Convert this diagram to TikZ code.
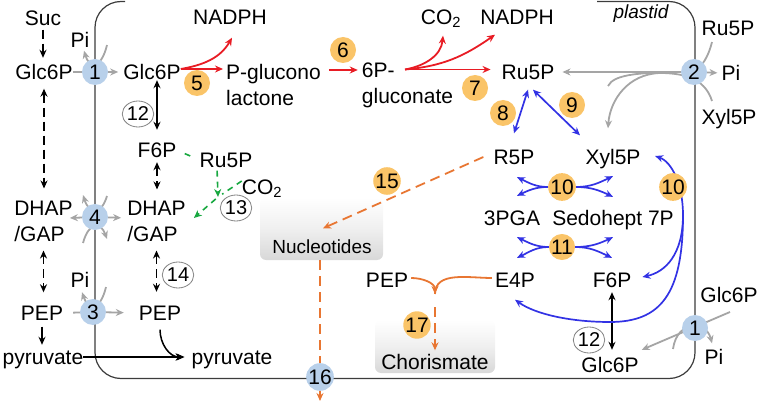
\documentclass[tikz,border=0pt]{standalone}
\usepackage{fontspec}
\setmainfont{Liberation Sans}
\usetikzlibrary{arrows.meta,shapes.geometric,calc}
\definecolor{cblue}{RGB}{184,208,234}
\definecolor{corange}{RGB}{250,196,104}
\definecolor{cred}{RGB}{232,28,36}
\definecolor{cvio}{RGB}{50,50,228}
\definecolor{cgreen}{RGB}{24,168,64}
\definecolor{cdash}{RGB}{232,118,50}
\definecolor{cgray}{RGB}{165,165,165}
\definecolor{cgrayd}{RGB}{130,130,130}
\definecolor{cline}{RGB}{60,60,60}
\definecolor{boxgray}{RGB}{216,216,216}
\pgfdeclarelayer{boxes}
\pgfdeclarelayer{lines}
\pgfsetlayers{boxes,lines,main}
\begin{document}
\begin{tikzpicture}[x=1pt,y=-1pt,
  >={Stealth[length=8pt,width=7pt]},
  lab/.style={inner sep=0pt, text height=15pt, text depth=0pt, font=\fontsize{21}{26}\selectfont},
  labm/.style={inner sep=0pt, align=left, font=\fontsize{21}{26}\selectfont},
  bnum/.style={circle, fill=cblue, minimum size=26pt, inner sep=0pt, font=\fontsize{21}{26}\selectfont},
  onum/.style={circle, fill=corange, minimum size=26pt, inner sep=0pt, font=\fontsize{21}{26}\selectfont},
  wnum/.style={ellipse, draw=cgrayd, line width=0.8pt, fill=white, minimum width=28pt, minimum height=26pt, inner sep=0pt, font=\fontsize{20}{24}\selectfont},
  gbox/.style={rounded corners=6pt, top color=white, bottom color=boxgray, middle color=white!60!boxgray, inner sep=0pt},
  bnd/.style={draw=cline, line width=1.2pt},
  ks/.style={draw=black, line width=1.5pt},
  kd/.style={draw=black, line width=1.5pt, dash pattern=on 9pt off 5pt},
  gy/.style={draw=cgray, line width=1.8pt},
  rd/.style={draw=cred, line width=1.8pt},
  bl/.style={draw=cvio, line width=1.7pt},
  oa/.style={draw=cdash, line width=1.8pt},
  od/.style={draw=cdash, line width=1.8pt, dash pattern=on 10pt off 6pt},
  gd/.style={draw=cgreen, line width=1.6pt, dash pattern=on 6pt off 5pt}
]
\useasboundingbox (0,0) rectangle (762,403);

% ---------- nodes ----------
\node[lab] (suc) at (43,18) {Suc};
\node[lab] (glcL) at (44,72) {Glc6P};
\node[lab] (piA) at (80,40) {Pi};
\node[bnum] (c1a) at (95,72) {1};
\node[lab] (glcI) at (152,72) {Glc6P};
\node[lab] (nadph1) at (230,17) {NADPH};
\node[onum] (c5) at (197,83) {5};
\node[labm] (pgl) at (273.5,85) {P-glucono\\lactone};
\node[onum] (c6) at (343,50) {6};
\node[labm] (gcn) at (407.5,85) {6P-\\gluconate};
\node[lab] (co2) at (441,17) {CO\textsubscript{2}};
\node[lab] (nadph2) at (517,17) {NADPH};
\node[onum] (c7) at (475,88) {7};
\node[lab] (ru5pI) at (528,72) {Ru5P};
\node[lab, font=\fontsize{19}{22}\selectfont\itshape] (plastid) at (641,11) {plastid};
\node[bnum] (c2) at (694,72) {2};
\node[lab] (ru5pO) at (728,28) {Ru5P};
\node[lab] (piB) at (731,73) {Pi};
\node[lab] (xyl5pO) at (729,117) {Xyl5P};
\node[onum] (c8) at (503,113) {8};
\node[onum] (c9) at (572,105) {9};
\node[lab] (r5p) at (514,157) {R5P};
\node[lab] (xyl5pI) at (613,157) {Xyl5P};
\node[onum] (c10a) at (562,187) {10};
\node[lab] (pga) at (512,218) {3PGA};
\node[lab] (sed) at (613,218) {Sedohept 7P};
\node[onum] (c11) at (562,247) {11};
\node[onum] (c10b) at (673,187) {10};
\node[lab] (e4p) at (515,280) {E4P};
\node[lab] (f6pR) at (612,280) {F6P};
\node[lab] (pep2) at (387,280) {PEP};
\node[onum] (c17) at (417,325) {17};
\node[lab] (chor) at (435,362) {Chorismate};
\node[lab, font=\fontsize{19}{22}\selectfont] (nuc) at (322,246) {Nucleotides};
\node[onum] (c15) at (387,181) {15};
\node[bnum] (c16) at (320,377) {16};
\node[labm] (dhapL) at (43.5,221) {DHAP\\/GAP};
\node[bnum] (c4) at (95,217) {4};
\node[labm] (dhapI) at (156.5,221) {DHAP\\/GAP};
\node[lab] (pepL) at (42,313) {PEP};
\node[lab] (pyrL) at (43,357) {pyruvate};
\node[lab] (pyrR) at (232,357) {pyruvate};
\node[lab] (pepR) at (160,313) {PEP};
\node[bnum] (c3) at (93,312) {3};
\node[lab] (piC) at (80,280) {Pi};
\node[wnum] (c12a) at (138,114) {12};
\node[lab] (f6pI) at (157,150) {F6P};
\node[lab] (ru5pG) at (226,160) {Ru5P};
\node[lab] (co2G) at (262,187) {CO\textsubscript{2}};
\node[wnum] (c13) at (236,208) {13};
\node[wnum] (c14) at (178,275) {14};
\node[lab] (glcO) at (729,295) {Glc6P};
\node[lab] (piD) at (714,357) {Pi};
\node[bnum] (c1b) at (695,328) {1};
\node[lab] (glcR) at (610,365) {Glc6P};
\node[wnum] (c12b) at (589,340) {12};

% free ends
\coordinate (gsplit) at (405,69.5);
\coordinate (c1pin) at (107,45);
\coordinate (c4a) at (107,196);
\coordinate (c4ta) at (83,195);
\coordinate (c4b) at (83,243);
\coordinate (c4tb) at (107,239);
\coordinate (c3pin) at (106,287);
\coordinate (c2ru) at (712,42);
\coordinate (c2xy) at (712,101);
\coordinate (c2pi) at (608,86);
\coordinate (c1bin) at (730,312);
\coordinate (c1bst) at (673,349);
\coordinate (bjn) at (683,215);
\coordinate (nucout) at (320,401);
\coordinate (ojn) at (435,294);
\coordinate (gjn) at (218,197);

\begin{pgfonlayer}{boxes}
\node[gbox, minimum width=123pt, minimum height=63pt] (nucbox) at (321.5,228.5) {};
\node[gbox, minimum width=120pt, minimum height=53pt] (chorbox) at (435,346.5) {};
\end{pgfonlayer}

\begin{pgfonlayer}{lines}
% plastid boundary
\draw[bnd, rounded corners=26pt] (125,1.5) -- (95,1.5) -- (95,378.5) -- (695,378.5) -- (695,1.5) -- (597,1.5);

% black
\draw[kd,->, shorten <=4pt, shorten >=6.5pt] (suc.south) -- (suc.south |- glcL.north);
\draw[kd,<->, shorten <=9pt, shorten >=12pt] (glcL.south) -- (glcL.south |- dhapL.north);
\draw[kd,<->, shorten <=9pt, shorten >=13pt] (dhapL.south) -- (dhapL.south |- pepL.north);
\draw[ks,->, shorten <=6pt, shorten >=4.5pt] (pepL.south) -- (pepL.south |- pyrL.north);
\draw[ks,->, shorten >=7pt] (pyrL.east) -- (pyrR.west);
\draw[ks,->] ([yshift=-9pt]pepR.south) to[out=-90,in=180] ([xshift=-8pt]pyrR.west);
\draw[ks,<->, shorten <=0.5pt, shorten >=12.5pt] (glcI.south -| f6pI) -- (f6pI.north);
\draw[kd,<->, shorten <=4.5pt, shorten >=11pt] (f6pI.south) -- (f6pI.south |- dhapI.north);
\draw[kd,<->, shorten <=9pt, shorten >=13.5pt] (dhapI.south) -- (dhapI.south |- pepR.north);
\draw[ks,<->, shorten <=4.5pt, shorten >=7.5pt] (f6pR.south) -- (f6pR.south |- glcR.north);

% red
\draw[rd,->, shorten >=3pt] ([yshift=3pt]glcI.east) -- ([yshift=3pt]glcI.east -| pgl.west);
\draw[rd,->] ([yshift=3pt]glcI.east) to[out=10,in=-120] ([xshift=2pt,yshift=-13pt]nadph1.south);
\draw[rd,->, shorten <=8pt, shorten >=4pt] ([yshift=15pt]pgl.east) -- ([yshift=15pt]gcn.west);
\draw[rd,->, shorten >=11pt] (gsplit) -- ([yshift=2.5pt]ru5pI.west);
\draw[rd,->] (gsplit) to[out=10,in=-95] ([xshift=2pt,yshift=-11pt]co2.south);
\draw[rd,->] (gsplit) to[out=5,in=-145] ([xshift=-22pt,yshift=-10pt]nadph2.south);

% gray transporters
\draw[gy] (glcL.east) -- (c1a.center);
\draw[gy,->, shorten >=5pt] (c1a) -- (glcI.west);
\draw[gy,->] (c1pin) .. controls (101,70) and (89,68) .. ([xshift=4pt,yshift=-3pt]piA.south);

\draw[gy,->] (c4) -- ([xshift=-3pt,yshift=3pt]dhapL.east);
\draw[gy,->, shorten >=6pt] (c4) -- ([yshift=3pt]dhapI.west);
\draw[gy,->] (c4a) .. controls (101,216) and (89,214) .. (c4ta);
\draw[gy,->] (c4b) .. controls (89,221) and (101,222) .. (c4tb);

\draw[gy, shorten <=10pt] (pepL.east) -- (c3.center);
\draw[gy,->, shorten >=15pt] (c3) -- (pepR.west);
\draw[gy,->] (c3pin) .. controls (100,312) and (88,310) .. ([xshift=2pt,yshift=-4.5pt]piC.south);

\draw[gy,->, shorten >=8pt] (c2) -- (ru5pI.east);
\draw[gy,->, shorten >=4pt] (c2) -- (piB.west);
\draw[gy] (c2ru) .. controls (708,58) and (702,66) .. (c2.center);
\draw[gy,->] (c2xy) .. controls (706,82) and (690,73) .. (660,73) .. controls (628,74) and (610,100) .. ([xshift=-5pt,yshift=21pt]xyl5pI.north);
\draw[gy] (c2pi) .. controls (614,74) and (640,72) .. (c2.center);

\draw[gy,->] (c1bin) -- ([xshift=3pt,yshift=7.5pt]glcR.north east);
\draw[gy,->] (c1bst) .. controls (677,320) and (706,320) .. ([xshift=-2pt,yshift=6pt]piD.north);

% blue
\draw[bl,<->] ([yshift=-10pt]ru5pI.south) -- ([yshift=16pt]r5p.north);
\draw[bl,<->] ([xshift=5pt,yshift=-10pt]ru5pI.south) -- ([xshift=-33pt,yshift=14pt]xyl5pI.north);
\draw[bl,->] (c10a.west) to[out=180,in=-25] ([xshift=3pt,yshift=-12.5pt]r5p.south);
\draw[bl,->] (c10a.west) to[out=180,in=25] ([xshift=5pt,yshift=14.5pt]pga.north);
\draw[bl,->] (c10a.east) to[out=0,in=-155] ([yshift=-11.5pt]xyl5pI.south);
\draw[bl,->] (c10a.east) to[out=0,in=155] ([yshift=13.5pt]sed.north);
\draw[bl,->] (c11.west) to[out=180,in=-25] ([xshift=5pt,yshift=-11.5pt]pga.south);
\draw[bl,->] (c11.west) to[out=180,in=25] ([xshift=2pt,yshift=14.5pt]e4p.north);
\draw[bl,->] (c11.east) to[out=0,in=-155] ([yshift=-11.5pt]sed.south);
\draw[bl,->] (c11.east) to[out=0,in=155] ([yshift=14.5pt]f6pR.north);
\draw[bl,<->] ([xshift=14.5pt,yshift=1pt]xyl5pI.east) .. controls (672,162) and (683,185) .. (bjn) .. controls (683,255) and (665,272) .. ([xshift=11pt,yshift=3pt]f6pR.east);
\draw[bl,->] (bjn) .. controls (683,295) and (660,322) .. (610,322) .. controls (570,322) and (535,314) .. ([yshift=-12pt]e4p.south);

% orange
\draw[od,->] ([xshift=-10pt]r5p.west) -- ([xshift=1pt,yshift=10pt]nuc.north);
\draw[od,->] (nucbox.south -| c16) -- (nucout);
\draw[oa,->] ([xshift=3pt,yshift=2pt]pep2.east) to[out=0,in=90] (ojn);
\draw[oa] ([xshift=-3pt,yshift=2pt]e4p.west) to[out=180,in=90] (ojn);
\draw[od,->, shorten <=13pt, shorten >=4pt] (ojn) -- (chor.north);

% green
\draw[gd, shorten <=9pt, shorten >=6pt] (f6pI.east) -- (ru5pG.west);
\draw[gd,->, shorten <=3pt] ([xshift=-9pt]ru5pG.south) -- (gjn);
\draw[gd, shorten >=5pt] ([yshift=6pt]co2G.west) -- (gjn);
\draw[gd,->, shorten <=3pt] (gjn) -- ([xshift=8pt,yshift=3pt]dhapI.east);
\end{pgfonlayer}
\end{tikzpicture}
\end{document}
